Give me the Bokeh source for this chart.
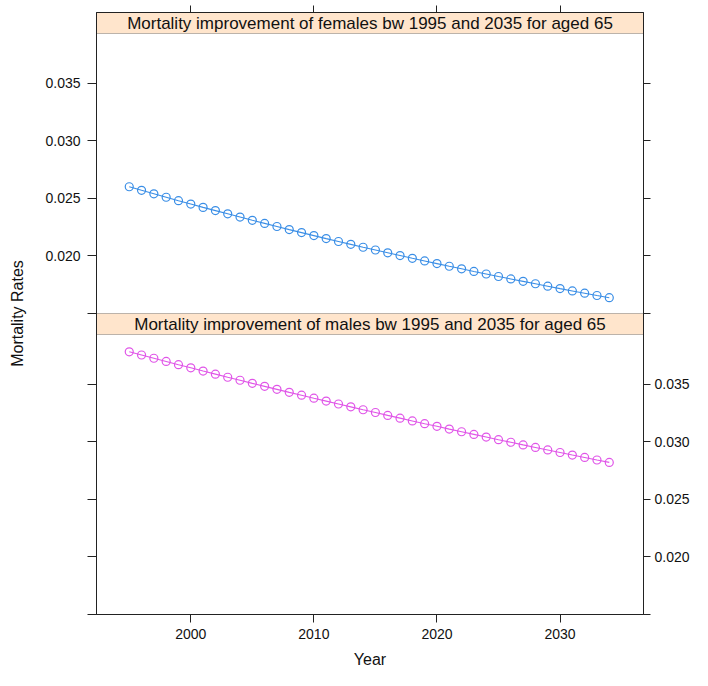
from bokeh.plotting import figure
from bokeh.models import Range1d, LinearAxis, FixedTicker, BoxAnnotation, Label, PrintfTickFormatter
from bokeh.embed import file_html
from bokeh.resources import INLINE

# ---------------- data ----------------
years = list(range(1995, 2035))
female = [0.02600, 0.02569, 0.02539, 0.02509, 0.02479, 0.02450, 0.02421, 0.02393,
          0.02365, 0.02337, 0.02309, 0.02282, 0.02255, 0.02228, 0.02202, 0.02176,
          0.02150, 0.02125, 0.02100, 0.02075, 0.02051, 0.02027, 0.02003, 0.01979,
          0.01956, 0.01933, 0.01910, 0.01888, 0.01865, 0.01843, 0.01821, 0.01800,
          0.01779, 0.01758, 0.01737, 0.01716, 0.01696, 0.01676, 0.01656, 0.01637]
male = [0.03780, 0.03752, 0.03724, 0.03696, 0.03668, 0.03641, 0.03613, 0.03586,
        0.03559, 0.03533, 0.03506, 0.03480, 0.03454, 0.03428, 0.03403, 0.03377,
        0.03352, 0.03327, 0.03302, 0.03277, 0.03253, 0.03228, 0.03204, 0.03180,
        0.03156, 0.03133, 0.03109, 0.03086, 0.03063, 0.03040, 0.03017, 0.02995,
        0.02972, 0.02950, 0.02928, 0.02906, 0.02884, 0.02863, 0.02841, 0.02820]
x_ticks = [2000, 2010, 2020, 2030]
y_ticks = [0.020, 0.025, 0.030, 0.035]
y_edge_ticks = [0.015]
female_title = "Mortality improvement of females bw 1995 and 2035 for aged 65"
male_title = "Mortality improvement of males bw 1995 and 2035 for aged 65"
x_label = "Year"
y_label = "Mortality Rates"

# ---------------- layout constants ----------------
FONT = "Liberation Sans"
FEMALE_COL = "#3a8ee6"
MALE_COL = "#e055e8"
STRIP_COL = "#ffe5cc"
EDGE = "#222222"
TEXT = "#111111"

X0, X1 = 1992.34, 2036.78
Y_LO, Y_HI = 0.015, 0.0393
P, S = 280, 21          # panel / strip heights in px
F = 2 * P + 2 * S       # frame height
U = Y_HI - Y_LO
span = U * F / P
s = U * S / P

bottom_rng = Range1d(Y_LO, Y_LO + span)
top_rng = Range1d(Y_HI + s - span, Y_HI + s)
shift = top_rng.start - bottom_rng.start

W, H = 692, 670
TOP_B = 12
p = figure(width=W, height=H, x_range=Range1d(X0, X1), y_range=bottom_rng,
           output_backend="svg", toolbar_location=None,
           x_axis_location=None, y_axis_location=None,
           min_border_left=96, min_border_right=42, min_border_top=TOP_B,
           min_border_bottom=H - TOP_B - F)
p.extra_y_ranges = {"top": top_rng}
p.xgrid.visible = False
p.ygrid.visible = False
p.outline_line_color = EDGE
p.outline_line_width = 1
p.background_fill_color = "white"
p.border_fill_color = "white"

fmt = PrintfTickFormatter(format="%.3f")


def style(ax, tick_out=8):
    ax.axis_line_color = EDGE
    ax.major_tick_line_color = EDGE
    ax.minor_tick_line_color = EDGE
    ax.major_tick_in = 0
    ax.minor_tick_in = 0
    ax.major_tick_out = tick_out
    ax.minor_tick_out = tick_out
    ax.major_label_text_font = FONT
    ax.major_label_text_font_size = "14px"
    ax.major_label_text_color = TEXT
    ax.axis_label_text_font = FONT
    ax.axis_label_text_font_size = "16px"
    ax.axis_label_text_font_style = "normal"
    ax.axis_label_text_color = TEXT


# left axis: labels for the top (female) panel, plain ticks for the bottom panel
left = LinearAxis(y_range_name="top",
                  ticker=FixedTicker(ticks=y_ticks,
                                     minor_ticks=y_edge_ticks + [v + shift for v in y_edge_ticks + y_ticks]),
                  formatter=fmt, axis_label=y_label)
style(left, tick_out=9)
left.major_label_standoff = 7
left.axis_label_standoff = 16
p.add_layout(left, "left")

# right axis: labels for the bottom (male) panel, plain ticks for the top panel
right = LinearAxis(ticker=FixedTicker(ticks=y_ticks,
                                      minor_ticks=y_edge_ticks + [v - shift for v in y_edge_ticks + y_ticks]),
                   formatter=fmt)
style(right, tick_out=7)
right.major_label_standoff = 4
p.add_layout(right, "right")

# bottom axis
below = LinearAxis(ticker=FixedTicker(ticks=x_ticks), axis_label=x_label)
style(below)
below.major_label_standoff = 6
below.axis_label_standoff = 9
p.add_layout(below, "below")

# top axis: ticks only
above = LinearAxis(ticker=FixedTicker(ticks=[], minor_ticks=x_ticks))
style(above, tick_out=7)
above.major_label_standoff = 0
above.major_label_text_font_size = "0px"
p.add_layout(above, "above")

# strips
p.add_layout(BoxAnnotation(bottom=Y_HI, y_range_name="top", fill_color=STRIP_COL,
                           fill_alpha=1, line_color=EDGE, line_width=1, level="underlay"))
p.add_layout(BoxAnnotation(bottom=Y_HI, top=Y_HI + s, fill_color=STRIP_COL,
                           fill_alpha=1, line_color=EDGE, line_width=1, level="underlay"))
xc = (X0 + X1) / 2
p.add_layout(Label(x=xc, y=Y_HI + s / 2, y_range_name="top", text=female_title,
                   text_align="center", text_baseline="middle", text_font=FONT,
                   text_font_size="17px", text_color=TEXT))
p.add_layout(Label(x=xc, y=Y_HI + s / 2, text=male_title,
                   text_align="center", text_baseline="middle", text_font=FONT,
                   text_font_size="17px", text_color=TEXT))

# data
p.line(years, female, y_range_name="top", line_color=FEMALE_COL, line_width=1.1)
p.scatter(years, female, y_range_name="top", marker="circle", size=8,
          fill_color=None, line_color=FEMALE_COL, line_width=1.2)
p.line(years, male, line_color=MALE_COL, line_width=1.1)
p.scatter(years, male, marker="circle", size=8,
          fill_color=None, line_color=MALE_COL, line_width=1.2)

open("out.html", "w").write(file_html(p, INLINE))
